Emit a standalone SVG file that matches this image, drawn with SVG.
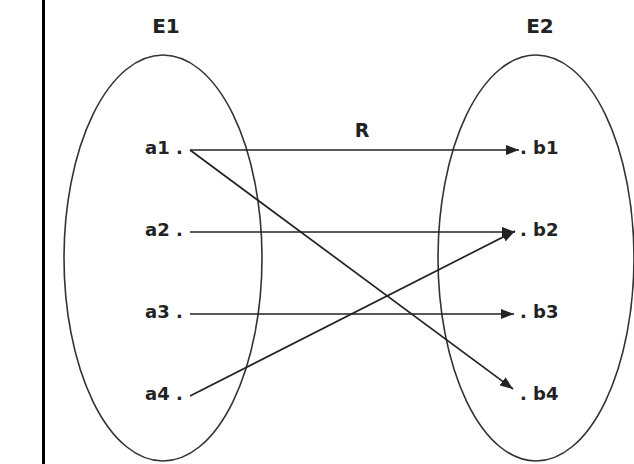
<svg xmlns="http://www.w3.org/2000/svg" width="634" height="464" viewBox="0 0 634 464">
<style>
.lbl{font-family:"DejaVu Sans",Verdana,sans-serif;font-weight:bold;font-size:18px;fill:#222}
.set{font-family:"DejaVu Sans",Verdana,sans-serif;font-weight:bold;font-size:20px;fill:#222}
.ell{fill:none;stroke:#333;stroke-width:1.6}
.edge{fill:none;stroke:#222;stroke-width:1.7}
</style>
<defs>
<marker id="ah" markerUnits="userSpaceOnUse" markerWidth="14" markerHeight="10" refX="13" refY="5" orient="auto">
<path d="M0,0 L13,5 L0,10 z" fill="#222"/>
</marker>
</defs>
<rect x="0" y="0" width="634" height="464" fill="#fff"/>
<rect x="42" y="0" width="3" height="464" fill="#000"/>
<g id="E1">
<ellipse class="ell" cx="163" cy="258" rx="99" ry="203"/>
<text class="set" x="166" y="33" text-anchor="middle">E1</text>
</g>
<g id="E2">
<ellipse class="ell" cx="536" cy="258" rx="98" ry="203"/>
<text class="set" x="540" y="33" text-anchor="middle">E2</text>
</g>
<g id="a1"><text class="lbl" x="145" y="154">a1 .</text></g>
<g id="a2"><text class="lbl" x="145" y="236">a2 .</text></g>
<g id="a3"><text class="lbl" x="145" y="318">a3 .</text></g>
<g id="a4"><text class="lbl" x="145" y="400">a4 .</text></g>
<g id="b1"><text class="lbl" x="520" y="154">. b1</text></g>
<g id="b2"><text class="lbl" x="520" y="236">. b2</text></g>
<g id="b3"><text class="lbl" x="520" y="318">. b3</text></g>
<g id="b4"><text class="lbl" x="520" y="400">. b4</text></g>
<g id="connectors">
<line class="edge" x1="190" y1="150" x2="519" y2="150" marker-end="url(#ah)"/>
<line class="edge" x1="190" y1="150" x2="513" y2="389" marker-end="url(#ah)"/>
<line class="edge" x1="190" y1="232" x2="515" y2="232" marker-end="url(#ah)"/>
<line class="edge" x1="190" y1="314" x2="514" y2="314" marker-end="url(#ah)"/>
<line class="edge" x1="190" y1="396" x2="515" y2="231" marker-end="url(#ah)"/>
<text class="set" x="362" y="137" text-anchor="middle" style="font-size:19px">R</text>
</g>
</svg>
